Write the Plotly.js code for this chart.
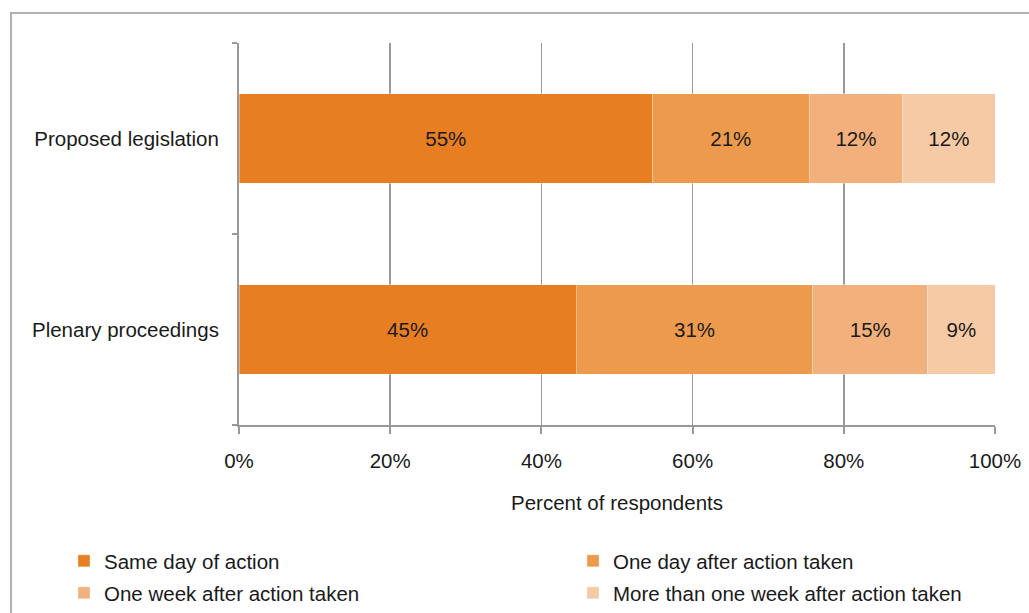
<!DOCTYPE html>
<html>
<head>
<meta charset="utf-8">
<script src="https://cdn.plot.ly/plotly-3.0.1.min.js"></script>
<style>
  html, body { margin: 0; padding: 0; background: #ffffff; }
  #wrap { position: relative; width: 1029px; height: 613px; overflow: hidden; }
  #frame { position: absolute; left: 10px; top: 12px; width: 1040px; height: 640px; border: 2px solid #b0b0b0; box-sizing: border-box; pointer-events: none; }
  #chart { position: absolute; left: 0; top: 0; width: 1029px; height: 613px; }
</style>
</head>
<body>
<div id="wrap">
  <div id="frame"></div>
  <div id="chart"></div>
</div>
<script>
// Categories (bottom to top in the plot)
const categories = ['Plenary proceedings', 'Proposed legislation'];

// Series names (legend entries)
const seriesNames = [
  'Same day of action',
  'One day after action taken',
  'One week after action taken',
  'More than one week after action taken'
];

// Series values (percent of respondents), in category order above
const sameDay      = [44.6, 54.7];
const oneDay       = [31.3, 20.7];
const oneWeek      = [15.2, 12.4];
const moreThanWeek = [ 8.9, 12.2];

// Labels shown inside the bars
const sameDayLabels      = ['45%', '55%'];
const oneDayLabels       = ['31%', '21%'];
const oneWeekLabels      = ['15%', '12%'];
const moreThanWeekLabels = ['9%', '12%'];

// Axis ticks
const xTickVals = [0, 20, 40, 60, 80, 100];
const xTickText = ['0%', '20%', '40%', '60%', '80%', '100%'];

const colors = ['#E87E22', '#ED9A4D', '#F2B17C', '#F6CAA4'];
const seriesValues = [sameDay, oneDay, oneWeek, moreThanWeek];
const seriesLabels = [sameDayLabels, oneDayLabels, oneWeekLabels, moreThanWeekLabels];
const legendIds = ['legend', 'legend2', 'legend3', 'legend4'];

const FONT = 'Liberation Sans, Arial, sans-serif';
const FS = 20.5;

const traces = seriesNames.map((name, i) => ({
  type: 'bar',
  orientation: 'h',
  name: name,
  legend: legendIds[i],
  y: categories,
  x: seriesValues[i],
  text: seriesLabels[i],
  textposition: 'inside',
  insidetextanchor: 'middle',
  textangle: 0,
  constraintext: 'none',
  textfont: { family: FONT, size: FS, color: '#1a1a1a' },
  hoverinfo: 'skip',
  marker: { color: colors[i], line: { width: 1, color: 'rgba(255,255,255,0.35)' } }
}));

// Legend placement (paper coords): two columns, two rows
const legCol = [-0.2315, 0.4418];
const legRow = [-0.356, -0.4398];
function leg(col, row) {
  return {
    x: legCol[col], xanchor: 'left',
    y: legRow[row], yanchor: 'middle',
    itemwidth: 30,
    bgcolor: 'rgba(0,0,0,0)',
    borderwidth: 0,
    font: { family: FONT, size: 20.5, color: '#1a1a1a' }
  };
}

const layout = {
  width: 1029,
  height: 613,
  margin: { l: 239, r: 34, t: 43, b: 188, autoexpand: false },
  paper_bgcolor: 'rgba(0,0,0,0)',
  plot_bgcolor: 'rgba(0,0,0,0)',
  barmode: 'stack',
  bargap: 0.53,
  font: { family: FONT, size: FS, color: '#1a1a1a' },
  showlegend: true,
  legend: leg(0, 0),
  legend2: leg(1, 0),
  legend3: leg(0, 1),
  legend4: leg(1, 1),
  xaxis: {
    range: [0, 100],
    tickvals: xTickVals,
    ticktext: xTickText,
    showgrid: true,
    gridcolor: '#999999',
    gridwidth: 1.5,
    showline: true,
    linecolor: '#999999',
    linewidth: 2,
    ticks: 'outside',
    ticklen: 7,
    tickwidth: 2,
    tickcolor: '#999999',
    zeroline: false,
    ticklabelstandoff: 9,
    tickfont: { family: FONT, size: FS, color: '#1a1a1a' },
    title: { text: 'Percent of respondents', font: { family: FONT, size: FS, color: '#1a1a1a' }, standoff: 25 },
    fixedrange: true
  },
  yaxis: {
    type: 'category',
    categoryorder: 'array',
    categoryarray: categories,
    range: [-0.5, 1.5],
    showline: true,
    linecolor: '#999999',
    linewidth: 2,
    ticks: 'outside',
    tickson: 'boundaries',
    ticklen: 5,
    tickwidth: 2,
    tickcolor: '#999999',
    showgrid: false,
    zeroline: false,
    ticklabelstandoff: 14,
    tickfont: { family: FONT, size: FS, color: '#1a1a1a' },
    fixedrange: true
  }
};

Plotly.newPlot('chart', traces, layout, { staticPlot: true, displayModeBar: false });
</script>
</body>
</html>
